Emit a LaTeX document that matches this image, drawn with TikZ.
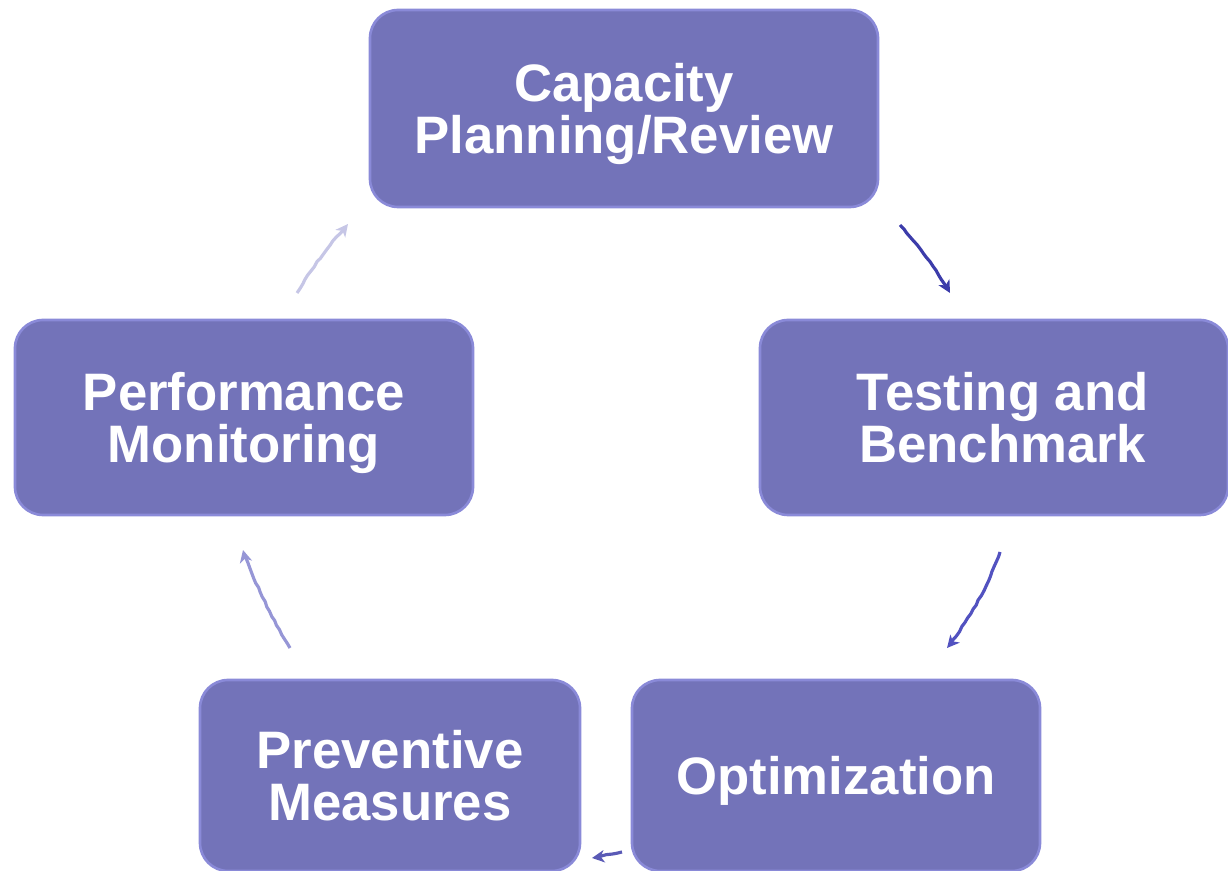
\documentclass[tikz,border=0pt]{standalone}
\usepackage{fontspec}
\setmainfont{Liberation Sans}
\usepackage{tikz}
\usetikzlibrary{arrows.meta,decorations.pathmorphing}
\definecolor{stagefill}{HTML}{7373B9}
\definecolor{stageedge}{HTML}{8A8AD8}
\tikzstyle{stagebox} = [draw=stageedge, fill=stagefill, line width=1.5pt,
    rectangle, rounded corners=16pt, align=center, text=white, text depth=0pt,
    font=\fontsize{30}{29.5}\selectfont\bfseries]
\tikzstyle{cyclearrow} = [line width=1.8pt, -{Stealth[length=7pt,width=7pt,inset=2pt]},
    decorate, decoration={random steps, segment length=3pt, amplitude=0.3pt}]

\begin{document}
\begin{tikzpicture}
                \useasboundingbox (0,0) rectangle (24.56,-17.42);
                \node [stagebox, minimum width=10.16cm, minimum height=3.94cm] (capacity) at (12.48,-2.17) {Capacity\\Planning/Review};
                \node [stagebox, minimum width=9.36cm, minimum height=3.9cm] (testing) at (19.88,-8.35) {\hspace*{0.35cm}Testing and\\\hspace*{0.35cm}Benchmark};
                \node [stagebox, minimum width=8.16cm, minimum height=3.82cm] (optim) at (16.72,-15.51) {Optimization};
                \node [stagebox, minimum width=7.6cm, minimum height=3.82cm] (prevent) at (7.8,-15.51) {Preventive\\Measures};
                \node [stagebox, minimum width=9.16cm, minimum height=3.9cm] (perform) at (4.88,-8.35) {Performance\\Monitoring};
                % arrow ends
                \coordinate (a1s) at (18.0,-4.5);  \coordinate (a1e) at (19.0,-5.86);
                \coordinate (a2s) at (20.0,-11.04); \coordinate (a2e) at (18.94,-12.96);
                \coordinate (a3s) at (12.44,-17.04); \coordinate (a3e) at (11.84,-17.16);
                \coordinate (a4s) at (5.8,-12.96);  \coordinate (a4e) at (4.86,-11.0);
                \coordinate (a5s) at (5.94,-5.86);  \coordinate (a5e) at (6.96,-4.48);
                \draw [cyclearrow, color={rgb,255:red,60;green,60;blue,170}] (a1s) to[bend left=5] (a1e);
                \draw [cyclearrow, color={rgb,255:red,82;green,82;blue,192}] (a2s) to[bend left=8] (a2e);
                \draw [cyclearrow, color={rgb,255:red,90;green,90;blue,182}] (a3s) to (a3e);
                \draw [cyclearrow, color={rgb,255:red,150;green,150;blue,214}] (a4s) to[bend left=5] (a4e);
                \draw [cyclearrow, color={rgb,255:red,198;green,198;blue,230}] (a5s) to[bend left=5] (a5e);
            \end{tikzpicture}
\end{document}
